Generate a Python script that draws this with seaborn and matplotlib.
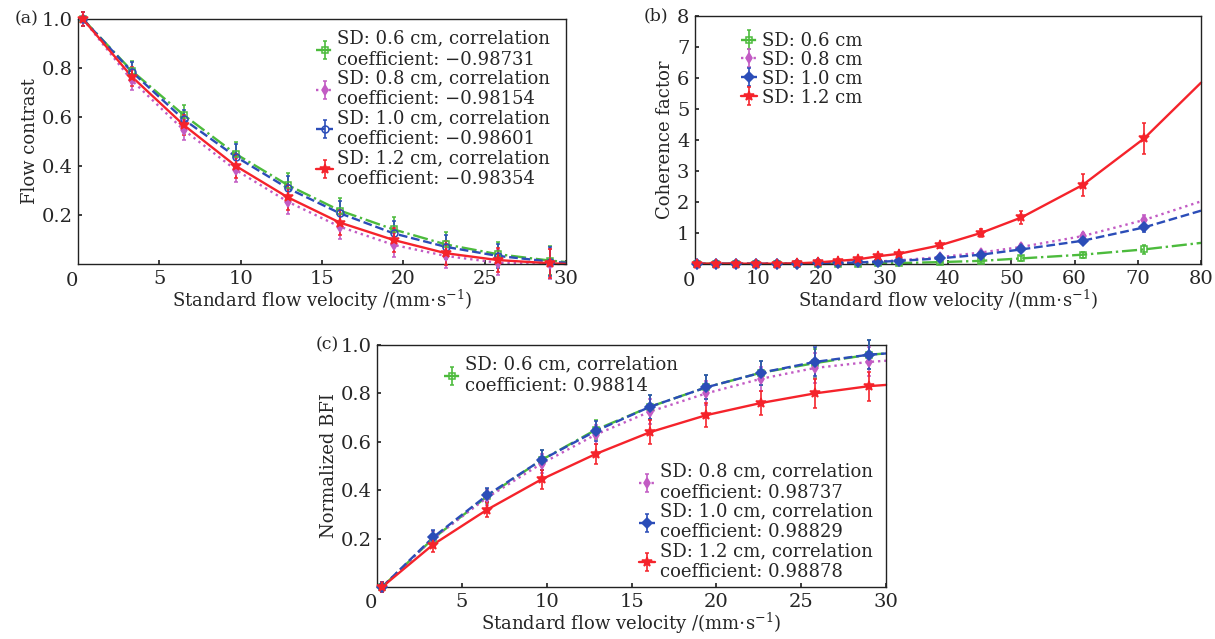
import numpy as np
import matplotlib
matplotlib.use("Agg")
import matplotlib.pyplot as plt
import seaborn as sns
from matplotlib.legend_handler import HandlerTuple

# ---- data ----
series = ["SD: 0.6 cm", "SD: 0.8 cm", "SD: 1.0 cm", "SD: 1.2 cm"]
colors = ["#4cbb3c", "#c25bc4", "#2b4db8", "#f5232b"]
styles = ["-.", ":", "--", "-"]

# (a) flow contrast
vel_a = [0.3, 3.3, 6.5, 9.7, 12.9, 16.1, 19.4, 22.6, 25.8, 29.0]
contrast_06 = [1.0, 0.789, 0.608, 0.449, 0.322, 0.218, 0.141, 0.080, 0.040, 0.014]
contrast_08 = [1.0, 0.750, 0.547, 0.384, 0.254, 0.152, 0.078, 0.033, 0.005, 0.000]
contrast_10 = [1.0, 0.785, 0.590, 0.438, 0.309, 0.207, 0.125, 0.070, 0.033, 0.010]
contrast_12 = [1.0, 0.765, 0.567, 0.400, 0.272, 0.169, 0.098, 0.044, 0.016, 0.003]
contrast_err = [0.03, 0.04, 0.04, 0.05, 0.05, 0.05, 0.05, 0.05, 0.05, 0.06]
contrast_end = [0.008, 0.0, 0.005, 0.0]
corr_a = ["−0.98731", "−0.98154", "−0.98601", "−0.98354"]

# (b) coherence factor
vel_b = [0.3, 3.3, 6.5, 9.7, 12.9, 16.1, 19.4, 22.6, 25.8, 29.0, 32.3, 38.7, 45.2, 51.6, 61.3, 71.0]
coh_06 = [0.01, 0.01, 0.01, 0.01, 0.01, 0.01, 0.01, 0.01, 0.015, 0.02, 0.03, 0.06, 0.10, 0.18, 0.30, 0.47]
coh_08 = [0.01, 0.01, 0.01, 0.01, 0.01, 0.015, 0.02, 0.03, 0.05, 0.08, 0.12, 0.22, 0.37, 0.55, 0.90, 1.42]
coh_10 = [0.01, 0.01, 0.01, 0.01, 0.01, 0.015, 0.02, 0.03, 0.05, 0.07, 0.10, 0.18, 0.30, 0.47, 0.75, 1.18]
coh_12 = [0.01, 0.01, 0.01, 0.01, 0.01, 0.02, 0.05, 0.10, 0.15, 0.25, 0.33, 0.60, 1.00, 1.50, 2.55, 4.05]
coh_err_small = [0.02] * 11 + [0.04, 0.06, 0.08, 0.10, 0.15]
coh_err_red = [0.02] * 10 + [0.05, 0.08, 0.12, 0.20, 0.35, 0.50]
coh_end = [0.68, 2.02, 1.72, 5.85]

# (c) normalized BFI
bfi_06 = [0.0, 0.200, 0.375, 0.525, 0.650, 0.745, 0.825, 0.885, 0.925, 0.960]
bfi_08 = [0.0, 0.200, 0.370, 0.510, 0.630, 0.725, 0.800, 0.860, 0.905, 0.930]
bfi_10 = [0.0, 0.205, 0.380, 0.525, 0.645, 0.745, 0.825, 0.885, 0.930, 0.960]
bfi_12 = [0.0, 0.175, 0.320, 0.445, 0.550, 0.640, 0.710, 0.760, 0.800, 0.830]
bfi_err = [0.02, 0.03, 0.03, 0.04, 0.04, 0.05, 0.05, 0.05, 0.06, 0.06]
bfi_end = [0.965, 0.935, 0.965, 0.835]
corr_c = ["0.98814", "0.98737", "0.98829", "0.98878"]

sns.set_theme(style="ticks")
plt.rcParams["font.family"] = ["DejaVu Serif"]
plt.rcParams["mathtext.fontset"] = "dejavuserif"
plt.rcParams["xtick.direction"] = "in"
plt.rcParams["ytick.direction"] = "in"
FS = 12.5

xlabel = "Standard flow velocity /(mm$\\cdot$s$^{-1}$)"

fig = plt.figure(figsize=(12.15, 6.39), dpi=100)
ax_a = fig.add_axes([0.0642, 0.5869, 0.4016, 0.3834])
ax_b = fig.add_axes([0.5720, 0.5869, 0.4165, 0.3880])
ax_c = fig.add_axes([0.3103, 0.0814, 0.4190, 0.3787])


def draw(ax, x, ys, errs, ends, x_end, markers, fills):
    handles = []
    for i, y in enumerate(ys):
        lx = list(x) + [x_end]
        ly = list(y) + [ends[i]]
        sns.lineplot(x=lx, y=ly, ax=ax, color=colors[i], linestyle=styles[i],
                     linewidth=1.7, sort=False, legend=False)
        line = ax.get_lines()[-1]
        line.set_clip_on(False)
        eb = ax.errorbar(x, y, yerr=errs[i], fmt=markers[i], color=colors[i],
                         markersize=5 if markers[i] != "*" else 7.5,
                         markerfacecolor=colors[i] if fills[i] else "none",
                         markeredgewidth=1.1, elinewidth=1.2, capsize=1.5,
                         clip_on=False, zorder=3)
        handles.append((line, eb))
    return handles


def frame(ax, xlim, ylim, xticks, yticks, ylabel, tag, tag_x):
    ax.set_xlim(*xlim)
    ax.set_ylim(*ylim)
    ax.set_xticks(xticks)
    ax.set_yticks(yticks)
    for s in ax.spines.values():
        s.set_visible(True)
        s.set_linewidth(1.0)
        s.set_color("#222222")
    ax.tick_params(labelsize=FS + 1.5, length=3, top=False, right=False, pad=4)
    ax.set_xlabel(xlabel, fontsize=FS + 0.5, labelpad=0)
    ax.set_ylabel(ylabel, fontsize=FS + 0.5, labelpad=2)
    ax.text(tag_x, 1.0, tag, transform=ax.transAxes, fontsize=FS,
            ha="right", va="center")
    ax.text(0.0, -0.068, "0", transform=ax.transAxes, fontsize=FS + 1.5,
            ha="right", va="center")


leg_kw = dict(frameon=False, fontsize=FS + 0.5, handlelength=0.9, handletextpad=0.25,
              labelspacing=0.05, borderaxespad=0.2,
              handler_map={tuple: HandlerTuple(ndivide=1)})

# (a)
h = draw(ax_a, vel_a, [contrast_06, contrast_08, contrast_10, contrast_12],
         [contrast_err] * 4, contrast_end, 30, ["s", "d", "o", "*"],
         [False, True, False, True])
frame(ax_a, (0, 30), (0, 1.0), [5, 10, 15, 20, 25, 30], [0.2, 0.4, 0.6, 0.8, 1.0],
      "Flow contrast", "(a)", -0.08)
ax_a.legend(h, [f"{s}, correlation\ncoefficient: {c}" for s, c in zip(series, corr_a)],
            loc="upper right", bbox_to_anchor=(0.99, 1.0), **leg_kw)

# (b)
h = draw(ax_b, vel_b, [coh_06, coh_08, coh_10, coh_12],
         [coh_err_small, coh_err_small, coh_err_small, coh_err_red], coh_end, 80,
         ["s", "d", "D", "*"], [False, True, True, True])
frame(ax_b, (0, 80), (0, 8), [10, 20, 30, 40, 50, 60, 70, 80], [1, 2, 3, 4, 5, 6, 7, 8],
      "Coherence factor", "(b)", -0.052)
ax_b.legend(h, series, loc="upper left", bbox_to_anchor=(0.07, 0.98), **leg_kw)

# (c)
h = draw(ax_c, vel_a, [bfi_06, bfi_08, bfi_10, bfi_12], [bfi_err] * 4, bfi_end, 30,
         ["s", "d", "D", "*"], [False, True, True, True])
frame(ax_c, (0, 30), (0, 1.0), [5, 10, 15, 20, 25, 30], [0.2, 0.4, 0.6, 0.8, 1.0],
      "Normalized BFI", "(c)", -0.075)
labels_c = [f"{s}, correlation\ncoefficient: {c}" for s, c in zip(series, corr_c)]
leg1 = ax_c.legend(h[:1], labels_c[:1], loc="upper left", bbox_to_anchor=(0.11, 1.0), **leg_kw)
ax_c.add_artist(leg1)
ax_c.legend(h[1:], labels_c[1:], loc="lower right", bbox_to_anchor=(0.995, -0.02), **leg_kw)

fig.savefig("out.png", dpi=100)
